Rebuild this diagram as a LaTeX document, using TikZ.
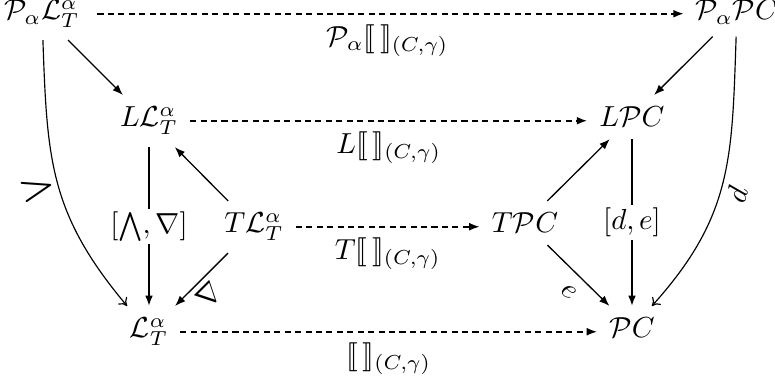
\documentclass[tikz,border=0pt]{standalone}
\usepackage{amsmath,amssymb,stmaryrd}
\usetikzlibrary{arrows.meta}
\begin{document}
\begin{tikzpicture}[x=0.345pt,y=0.345pt,
  obj/.style={inner sep=4pt, anchor=base},
  ar/.style={-{Latex[length=3.6pt,width=2.7pt]}, line width=0.45pt},
  var/.style={ar, line width=0.6pt},
  dar/.style={ar, line width=0.6pt, dash pattern=on 2.1pt off 1.5pt},
  car/.style={-{To[length=2.6pt,width=4pt]}, line width=0.4pt},
  hlab/.style={midway, below=1.5pt, inner sep=2pt},
  slab/.style={sloped, below, inner sep=2pt}]
\useasboundingbox (0,0) rectangle (775,-381);
\node[obj] (PaL) at (42,-20) {$\mathcal{P}_\alpha\mathcal{L}_T^\alpha$};
\node[obj] (PaPC) at (737,-20) {$\mathcal{P}_\alpha\mathcal{P}C$};
\node[obj] (LL) at (149,-127) {$L\mathcal{L}_T^\alpha$};
\node[obj] (LPC) at (632,-127) {$L\mathcal{P}C$};
\node[obj] (TL) at (254,-233) {$T\mathcal{L}_T^\alpha$};
\node[obj] (TPC) at (525,-233) {$T\mathcal{P}C$};
\node[obj] (LT) at (149,-338) {$\mathcal{L}_T^\alpha$};
\node[obj] (PC) at (632,-338) {$\mathcal{P}C$};
% horizontal dashed
\draw[dar, shorten <=2pt] (PaL.mid east) -- (PaPC.mid west) node[hlab] {$\mathcal{P}_\alpha\llbracket\,\rrbracket_{(C,\gamma)}$};
\draw[dar] (LL.mid east) -- (LPC.mid west) node[hlab] {$L\llbracket\,\rrbracket_{(C,\gamma)}$};
\draw[dar] (TL.mid east) -- (TPC.mid west) node[hlab] {$T\llbracket\,\rrbracket_{(C,\gamma)}$};
\draw[dar] (LT.mid east) -- (PC.mid west) node[hlab] {$\llbracket\,\rrbracket_{(C,\gamma)}$};
% diagonals
\draw[ar] (PaL) -- (LL);
\draw[ar] (PaPC) -- (LPC);
\draw[ar] (TL) -- (LL);
\draw[ar] (TL) -- (LT) node[pos=0.58, slab] {$\nabla$};
\draw[ar] (TPC) -- (LPC);
\draw[ar] (TPC) -- (PC) node[pos=0.55, slab, inner sep=4pt] {$e$};
% verticals
\draw[var] (LL.south) -- (LT.north) node[midway, fill=white, inner sep=1pt] {$[\bigwedge,\nabla]$};
\draw[var] (LPC.south) -- (PC.north) node[midway, fill=white, inner sep=1pt] {$[d,e]$};
% curves
\draw[car] (PaL) to[out=-88, in=130, looseness=1.1] node[pos=0.5, slab] {$\bigwedge$} (LT);
\draw[car] (PaPC) to[out=-92, in=48, looseness=1.1] node[pos=0.53, slab] {$d$} (PC);
\end{tikzpicture}
\end{document}
